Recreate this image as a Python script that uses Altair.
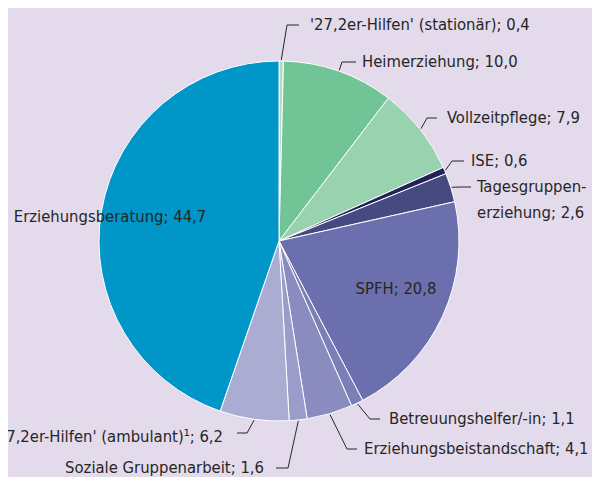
import math
import altair as alt
import pandas as pd

# ---- data ----
categories = ["'27,2er-Hilfen' (stationär)", "Heimerziehung", "Vollzeitpflege", "ISE",
              "Tagesgruppenerziehung", "SPFH", "Betreuungshelfer/-in",
              "Erziehungsbeistandschaft", "Soziale Gruppenarbeit",
              "'27,2er-Hilfen' (ambulant)¹", "Erziehungsberatung"]
values = [0.4, 10.0, 7.9, 0.6, 2.6, 20.8, 1.1, 4.1, 1.6, 6.2, 44.7]
label_names = ["'27,2er-Hilfen' (stationär)", "Heimerziehung", "Vollzeitpflege", "ISE",
               "Tagesgruppen-\nerziehung", "SPFH", "Betreuungshelfer/-in",
               "Erziehungsbeistandschaft", "Soziale Gruppenarbeit",
               "'27,2er-Hilfen' (ambulant)¹", "Erziehungsberatung"]

# ---- styles / layout ----
colors = ["#b3dcc2", "#71c495", "#98d2ae", "#22235b", "#454a80", "#6b6fae",
          "#7b7fb8", "#8a8bbf", "#9b9cc9", "#abacd1", "#0096c8"]
BG = "#e3daeb"
TXT = "#262626"
FONT = "DejaVu Sans Condensed"
FS = 16.5
W, H = 584, 469
OFF = 8
CX, CY, R = 279, 241, 180

# label anchor (page coords), alignment, leader elbow and end (None = no leader)
layout = [
    (310, 25, "left", (287, 25), (299, 25)),
    (362, 62, "left", (342, 62), (356, 62)),
    (447, 118, "left", (427, 118), (437, 118)),
    (471, 161, "left", (452, 161), (464, 161)),
    (477, 187, "left", (463, 187), (471, 187)),
    (396, 289, "center", None, None),
    (389, 419, "left", (370, 419), (380, 419)),
    (364, 449, "left", (347, 449), (357, 449)),
    (264, 468, "right", (288, 468), (276, 468)),
    (223, 437, "right", (247, 433), (237, 433)),
    (110, 217, "center", None, None),
]

def fmt(v):
    return f"{v:.1f}".replace(".", ",")

total = sum(values)
pie = pd.DataFrame({"cat": categories, "value": values, "idx": list(range(len(values)))})

lab_rows, line_rows = [], []
cum = 0.0
for i, (c, v) in enumerate(zip(categories, values)):
    mid = (cum + v / 2) / total * 2 * math.pi
    cum += v
    lx, ly, al, elbow, end = layout[i]
    lab_rows.append({"text": f"{label_names[i]}; {fmt(v)}", "x": lx, "y": ly, "align": al})
    if elbow is not None:
        sx = CX + (R + 1) * math.sin(mid)
        sy = CY - (R + 1) * math.cos(mid)
        for k, (px, py) in enumerate([(sx, sy), elbow, end]):
            line_rows.append({"cat": c, "k": k, "x": px, "y": py})

labs = pd.DataFrame(lab_rows)
lines = pd.DataFrame(line_rows)

xs = alt.Scale(domain=[OFF, OFF + W], range=[0, W])
ys = alt.Scale(domain=[OFF, OFF + H], range=[0, H])

arcs = alt.Chart(pie).mark_arc(outerRadius=R, stroke="white", strokeWidth=1).encode(
    theta=alt.Theta("value:Q", stack=True),
    order=alt.Order("idx:Q"),
    color=alt.Color("cat:N", scale=alt.Scale(domain=categories, range=colors), legend=None),
    x=alt.value(CX - OFF),
    y=alt.value(CY - OFF),
)

leaders = alt.Chart(lines).mark_line(color=TXT, strokeWidth=1).encode(
    x=alt.X("x:Q", scale=xs, axis=None),
    y=alt.Y("y:Q", scale=ys, axis=None),
    detail="cat:N",
    order="k:Q",
)

def text_layer(al):
    return alt.Chart(labs).transform_filter(alt.datum.align == al).mark_text(
        align=al, baseline="middle", font=FONT, fontSize=FS, color=TXT,
        lineBreak="\n", lineHeight=26,
    ).encode(
        x=alt.X("x:Q", scale=xs, axis=None),
        y=alt.Y("y:Q", scale=ys, axis=None),
        text="text:N",
    )

chart = alt.layer(arcs, leaders, text_layer("left"), text_layer("right"), text_layer("center")).properties(
    width=W, height=H, padding=0, background=BG,
    autosize=alt.AutoSizeParams(type="none"),
).configure_view(stroke=None)

chart.save("out.html", embed_options={"renderer": "svg", "actions": False})
